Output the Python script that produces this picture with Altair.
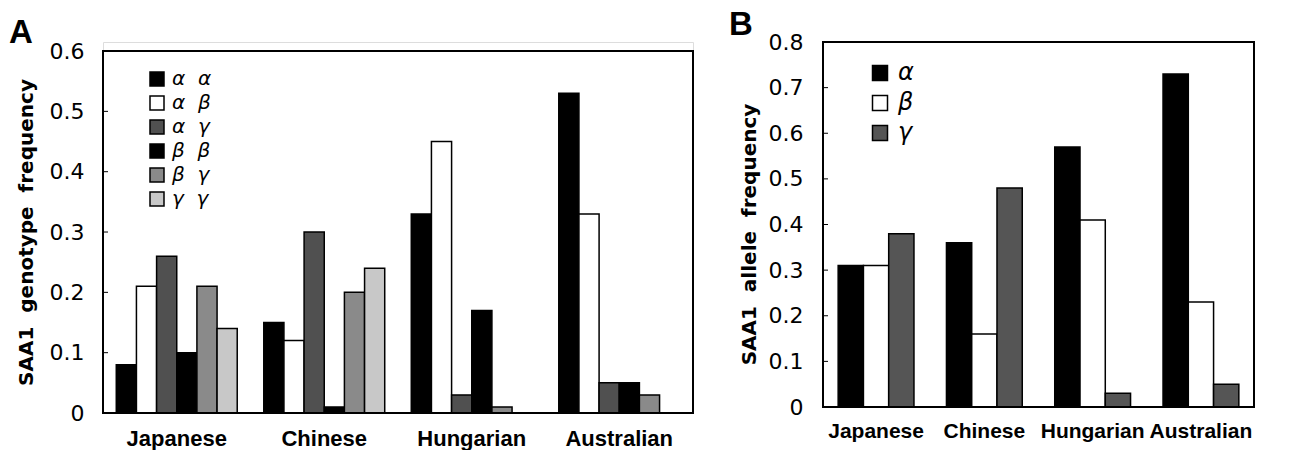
import altair as alt
import pandas as pd

# ---------------- data ----------------
populations = ["Japanese", "Chinese", "Hungarian", "Australian"]

genotypes = ["α α", "α β", "α γ", "β β", "β γ", "γ γ"]
japanese_genotype = [0.08, 0.21, 0.26, 0.10, 0.21, 0.14]
chinese_genotype = [0.15, 0.12, 0.30, 0.01, 0.20, 0.24]
hungarian_genotype = [0.33, 0.45, 0.03, 0.17, 0.01, 0.00]
australian_genotype = [0.53, 0.33, 0.05, 0.05, 0.03, 0.00]

alleles = ["α", "β", "γ"]
japanese_allele = [0.31, 0.31, 0.38]
chinese_allele = [0.36, 0.16, 0.48]
hungarian_allele = [0.57, 0.41, 0.03]
australian_allele = [0.73, 0.23, 0.05]

ticks_a = [0, 0.1, 0.2, 0.3, 0.4, 0.5, 0.6]
ticks_b = [0, 0.1, 0.2, 0.3, 0.4, 0.5, 0.6, 0.7, 0.8]
inner_ticks_a = [0.1, 0.2, 0.3, 0.4, 0.5]
inner_ticks_b = [0.1, 0.2, 0.3, 0.4, 0.5, 0.6, 0.7]

geno_colors = ["#000000", "#ffffff", "#505050", "#000000", "#8a8a8a", "#c8c8c8"]
allele_colors = ["#000000", "#ffffff", "#555555"]

geno_rows = []
for pop, vals in zip(populations, [japanese_genotype, chinese_genotype,
                                   hungarian_genotype, australian_genotype]):
    for g, v in zip(genotypes, vals):
        geno_rows.append({"population": pop, "genotype": g, "freq": v})
df_a = pd.DataFrame(geno_rows)

allele_rows = []
for pop, vals in zip(populations, [japanese_allele, chinese_allele,
                                   hungarian_allele, australian_allele]):
    for a, v in zip(alleles, vals):
        allele_rows.append({"population": pop, "allele": a, "freq": v})
df_b = pd.DataFrame(allele_rows)

# ---------------- layout ----------------
WA, HA = 590, 371
WB, HB = 431, 365
TOP_A = 0.615  # A's top frame is at 0.6, a little below the view top
PI_A, PO_A = 0.18, 0.09
PI_B, PO_B = 0.30, 0.14

tick_font = "DejaVu Sans"
lab_font = "Liberation Sans"


def x_axis(size, pad):
    return alt.Axis(title=None, labelAngle=0, labelFont=lab_font, labelFontWeight="bold",
                    labelFontSize=size, labelColor="black", domain=False, ticks=False,
                    labelPadding=pad)


def y_axis(values, title, title_y, lab_pad, title_pad):
    return alt.Axis(values=values, format=".1~f", title=title, grid=False, domain=False,
                    ticks=False, labelFont=tick_font, labelFontSize=22, labelColor="black",
                    labelPadding=lab_pad, titleFont="DejaVu Sans", titleFontWeight="bold",
                    titleFontSize=20, titleColor="black", titlePadding=title_pad,
                    titleY=title_y)


ya = y_axis(ticks_a, "SAA1\u00a0 genotype\u00a0 frequency", 190, 19, 13)
ysa = alt.Scale(domain=[0, TOP_A], nice=False)
yb = y_axis(ticks_b, "SAA1\u00a0 allele\u00a0 frequency", 192, 20, 9)
ysb = alt.Scale(domain=[0, 0.8], nice=False)

# ---------------- panel A ----------------
bars_a = alt.Chart(df_a).mark_bar(stroke="black", strokeWidth=1.5).encode(
    x=alt.X("population:N", sort=populations,
            scale=alt.Scale(paddingInner=PI_A, paddingOuter=PO_A), axis=x_axis(22, 15)),
    xOffset=alt.XOffset("genotype:N", sort=genotypes,
                        scale=alt.Scale(paddingInner=0, paddingOuter=0)),
    y=alt.Y("freq:Q", scale=ysa, axis=ya),
    fill=alt.Fill("genotype:N", sort=genotypes,
                  scale=alt.Scale(domain=genotypes, range=geno_colors),
                  legend=alt.Legend(title=None, orient="none", legendX=44, legendY=27,
                                    symbolType="square", symbolSize=196,
                                    symbolStrokeColor="black", symbolStrokeWidth=1.5,
                                    labelFont="DejaVu Sans", labelFontStyle="italic",
                                    labelFontSize=20, labelColor="black", rowPadding=4,
                                    labelOffset=5, padding=0,
                                    labelExpr="replace(datum.label, ' ', '\u00a0\u00a0')")),
)

frame_a = alt.Chart(pd.DataFrame({"freq": [ticks_a[-1]]})).mark_rect(
    filled=False, stroke="black", strokeWidth=2).encode(
    x=alt.value(0), x2=alt.value(WA), y=alt.Y("freq:Q", scale=ysa, axis=ya), y2=alt.datum(0))

itick_a = alt.Chart(pd.DataFrame({"freq": inner_ticks_a})).mark_rule(
    stroke="black", strokeWidth=1).encode(
    x=alt.value(0), x2=alt.value(5), y=alt.Y("freq:Q", scale=ysa, axis=ya))

letter_a = alt.Chart(pd.DataFrame({"t": ["A"]})).mark_text(
    align="left", baseline="alphabetic", font=lab_font, fontWeight="bold",
    fontSize=33, color="black").encode(x=alt.value(-94), y=alt.value(1), text="t:N")

panel_a = alt.layer(bars_a, frame_a, itick_a, letter_a).properties(width=WA, height=HA)

# ---------------- panel B ----------------
bars_b = alt.Chart(df_b).mark_bar(stroke="black", strokeWidth=1.5).encode(
    x=alt.X("population:N", sort=populations,
            scale=alt.Scale(paddingInner=PI_B, paddingOuter=PO_B), axis=x_axis(21, 13)),
    xOffset=alt.XOffset("allele:N", sort=alleles,
                        scale=alt.Scale(paddingInner=0, paddingOuter=0)),
    y=alt.Y("freq:Q", scale=ysb, axis=yb),
    fill=alt.Fill("allele:N", sort=alleles,
                  scale=alt.Scale(domain=alleles, range=allele_colors),
                  legend=alt.Legend(title=None, orient="none", legendX=45, legendY=19,
                                    symbolType="square", symbolSize=225,
                                    symbolStrokeColor="black", symbolStrokeWidth=1.5,
                                    labelFont="DejaVu Sans", labelFontStyle="italic",
                                    labelFontSize=24, labelColor="black", rowPadding=6,
                                    labelOffset=6, padding=0)),
)

frame_b = alt.Chart(pd.DataFrame({"freq": [ticks_b[-1]]})).mark_rect(
    filled=False, stroke="black", strokeWidth=2).encode(
    x=alt.value(0), x2=alt.value(WB), y=alt.Y("freq:Q", scale=ysb, axis=yb), y2=alt.datum(0))

itick_b = alt.Chart(pd.DataFrame({"freq": inner_ticks_b})).mark_rule(
    stroke="black", strokeWidth=1).encode(
    x=alt.value(0), x2=alt.value(5), y=alt.Y("freq:Q", scale=ysb, axis=yb))

letter_b = alt.Chart(pd.DataFrame({"t": ["B"]})).mark_text(
    align="left", baseline="alphabetic", font=lab_font, fontWeight="bold",
    fontSize=33, color="black").encode(x=alt.value(-94), y=alt.value(-7), text="t:N")

panel_b = alt.layer(bars_b, frame_b, itick_b, letter_b).properties(width=WB, height=HB)

chart = alt.hconcat(panel_a, panel_b, spacing=130, bounds="flush").resolve_scale(
    fill="independent", x="independent", y="independent",
    xOffset="independent").resolve_legend(
    fill="independent").properties(
    padding={"left": 0, "top": 0, "right": 0, "bottom": 0}).configure_view(
    strokeWidth=0).configure(background="white")

chart.save("out.html", embed_options={"renderer": "svg", "actions": False})
